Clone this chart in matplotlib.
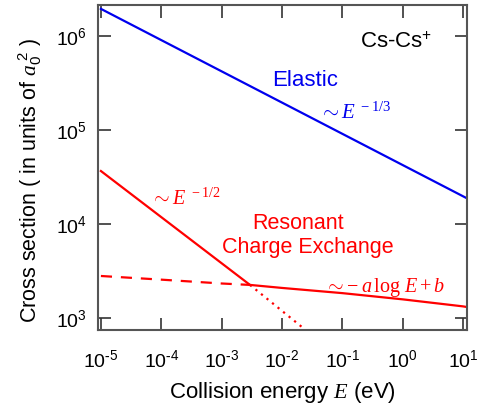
import numpy as np
import matplotlib
matplotlib.use("Agg")
import matplotlib.pyplot as plt
from matplotlib.ticker import FixedLocator, FuncFormatter

plt.rcParams['font.family'] = ['Liberation Sans', 'DejaVu Sans']
plt.rcParams['mathtext.fontset'] = 'custom'
plt.rcParams['mathtext.rm'] = 'Liberation Serif'
plt.rcParams['mathtext.it'] = 'Liberation Serif:italic'
plt.rcParams['mathtext.bf'] = 'Liberation Serif:bold'

# данные (E в эВ, сечение в a0^2)
elastic_E = [1e-5, 11.5]
elastic_sigma = [1.94e6, 1.88e4]

rce_pow_E = [1e-5, 2.95e-3]          # ~E^-1/2, сплошная
rce_pow_sigma = [3.66e4, 2250]
rce_dot_E = [2.95e-3, 2.15e-2]       # продолжение пунктиром
rce_dot_sigma = [2250, 800]

rce_log_dash_E = [1e-5, 1e-4, 1e-3, 2.95e-3]
rce_log_dash_sigma = [2800, 2560, 2330, 2250]
rce_log_E = [2.95e-3, 1e-2, 1e-1, 1.0, 10.0, 11.5]
rce_log_sigma = [2250, 2090, 1840, 1580, 1330, 1310]

x_ticks = [1e-5, 1e-4, 1e-3, 1e-2, 1e-1, 1e0, 1e1]
y_ticks = [1e3, 1e4, 1e5, 1e6]

red = '#ff0000'
blue = '#0000ee'


def tick_fmt(v, p):
    k = round(np.log10(v))
    if k < 0:
        return r'$\mathregular{10^{\text{-}%d}}$' % (-k)
    return r'$\mathregular{10^{%d}}$' % k


fig = plt.figure(figsize=(4.87, 4.08), dpi=100)
ax = fig.add_axes([0.201, 0.191, 0.758, 0.797])

ax.plot(elastic_E, elastic_sigma, color=blue, lw=1.6)
ax.plot(rce_pow_E, rce_pow_sigma, color=red, lw=1.6)
ax.plot(rce_dot_E, rce_dot_sigma, color=red, lw=1.6, ls=(0, (1, 2.2)))
ax.plot(rce_log_dash_E, rce_log_dash_sigma, color=red, lw=1.6, ls=(0, (5, 4)))
ax.plot(rce_log_E, rce_log_sigma, color=red, lw=1.6)

ax.set_xscale('log')
ax.set_yscale('log')
ax.set_xlim(10**-5.05, 10**1.065)
ax.set_ylim(10**2.872, 10**6.33)

ax.xaxis.set_major_locator(FixedLocator(x_ticks))
ax.yaxis.set_major_locator(FixedLocator(y_ticks))
ax.xaxis.set_major_formatter(FuncFormatter(tick_fmt))
ax.yaxis.set_major_formatter(FuncFormatter(tick_fmt))
ax.minorticks_off()
ax.tick_params(which='major', direction='in', length=9, width=1.2, color='#333333',
               top=True, right=True, labelsize=14)
ax.tick_params(axis='x', pad=14)
ax.tick_params(axis='y', pad=8)
for s in ax.spines.values():
    s.set_color('#555555')
    s.set_linewidth(1.5)

ax.set_xlabel(r'Collision energy $E$ (eV)', fontsize=16, labelpad=6)
ax.set_ylabel(r'Cross section ( in units of $a_{\mathregular{0}}^{\ \mathregular{2}}$ )', fontsize=15.5)
ax.yaxis.set_label_coords(-0.145, 0.46)

ax.text(0.905, 0.885, r'Cs-Cs$^{\mathregular{+}}$', transform=ax.transAxes,
        fontsize=16, ha='right', va='center')
ax.text(0.561, 0.767, 'Elastic', transform=ax.transAxes, color=blue,
        fontsize=16, ha='center', va='center')
ax.text(0.60, 0.67, r'$\sim E^{\ -1/3}$', transform=ax.transAxes, color=blue,
        fontsize=15, ha='left', va='center')
ax.text(0.145, 0.405, r'$\sim E^{\ -1/2}$', transform=ax.transAxes, color=red,
        fontsize=14.5, ha='left', va='center')
ax.text(0.542, 0.328, 'Resonant', transform=ax.transAxes, color=red,
        fontsize=15.5, ha='center', va='center')
ax.text(0.569, 0.253, 'Charge Exchange', transform=ax.transAxes, color=red,
        fontsize=15.5, ha='center', va='center')
ax.text(0.615, 0.13, r'$\sim\!-a\,\log\, E + b$', transform=ax.transAxes, color=red,
        fontsize=14.5, ha='left', va='center')

plt.savefig('out.png', dpi=100)
